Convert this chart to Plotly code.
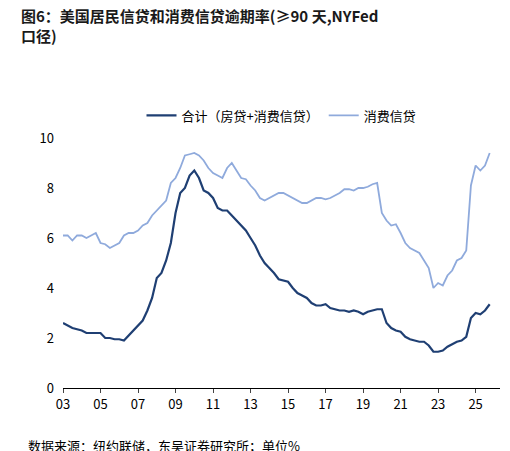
import plotly.graph_objects as go

quarters = [2003 + i / 4 for i in range(92)]

total = [2.6, 2.5, 2.4, 2.35, 2.3, 2.2, 2.2, 2.2, 2.2, 2.0, 2.0, 1.95,
         1.95, 1.9, 2.1, 2.3, 2.5, 2.7, 3.1, 3.6, 4.4, 4.6, 5.1, 5.8,
         7.0, 7.8, 8.0, 8.5, 8.7, 8.4, 7.9, 7.8, 7.6, 7.2, 7.1, 7.1,
         6.9, 6.7, 6.5, 6.3, 6.0, 5.7, 5.3, 5.0, 4.8, 4.6, 4.35, 4.3,
         4.25, 4.0, 3.8, 3.7, 3.6, 3.4, 3.3, 3.3, 3.35, 3.2, 3.15, 3.1,
         3.1, 3.05, 3.1, 3.05, 2.95, 3.05, 3.1, 3.15, 3.15, 2.6, 2.4, 2.3,
         2.25, 2.05, 1.95, 1.9, 1.85, 1.85, 1.7, 1.45, 1.45, 1.5, 1.65, 1.75,
         1.85, 1.9, 2.05, 2.8, 3.0, 2.95, 3.1, 3.35]

consumer = [6.1, 6.1, 5.9, 6.1, 6.1, 6.0, 6.1, 6.2, 5.8, 5.75, 5.6, 5.7,
            5.8, 6.1, 6.2, 6.2, 6.3, 6.5, 6.6, 6.9, 7.1, 7.3, 7.5, 8.2,
            8.4, 8.8, 9.3, 9.35, 9.4, 9.3, 9.1, 8.8, 8.6, 8.5, 8.4, 8.8,
            9.0, 8.7, 8.4, 8.35, 8.1, 7.9, 7.6, 7.5, 7.6, 7.7, 7.8, 7.8,
            7.7, 7.6, 7.5, 7.4, 7.4, 7.5, 7.6, 7.6, 7.55, 7.6, 7.7, 7.8,
            7.95, 7.95, 7.9, 8.0, 8.0, 8.05, 8.15, 8.2, 7.0, 6.7, 6.5, 6.55,
            6.2, 5.8, 5.6, 5.5, 5.4, 5.1, 4.8, 4.0, 4.2, 4.1, 4.5, 4.7,
            5.1, 5.2, 5.5, 8.1, 8.9, 8.7, 8.9, 9.4]

tick_vals = list(range(2003, 2026, 2))
tick_text = ["%02d" % (y % 100) for y in tick_vals]

font = "Noto Sans CJK SC"

fig = go.Figure()
fig.add_trace(go.Scatter(x=quarters, y=total, mode="lines", name="合计（房贷+消费信贷）",
                         line=dict(color="#1f3f73", width=2.2)))
fig.add_trace(go.Scatter(x=quarters, y=consumer, mode="lines", name="消费信贷",
                         line=dict(color="#8faadc", width=1.8)))

fig.update_layout(
    width=510, height=451,
    margin=dict(l=55, r=18, t=130, b=71),
    plot_bgcolor="white", paper_bgcolor="white",
    font=dict(family=font, size=13, color="black"),
    legend=dict(orientation="h", x=0.5, xanchor="center", y=1.09, yanchor="middle",
                font=dict(size=13)),
    xaxis=dict(range=[2003, 2026.3], tickvals=tick_vals, ticktext=tick_text,
               showline=True, linecolor="black", ticks="outside", ticklen=4,
               showgrid=False, zeroline=False),
    yaxis=dict(range=[0, 10], dtick=2, showline=False, showgrid=False,
               zeroline=False, ticks="", ticklabelstandoff=8),
)
fig.add_annotation(text="<b>图6：美国居民信贷和消费信贷逾期率(≥90 天,NYFed<br>口径)</b>",
                   xref="paper", yref="paper", x=-0.1, y=1.54, xanchor="left", yanchor="top",
                   align="left", showarrow=False, font=dict(size=15, color="#1a1a1a"))
fig.add_annotation(text="数据来源：纽约联储，东吴证券研究所；单位%", xref="paper", yref="paper",
                   x=-0.085, y=-0.23, xanchor="left", yanchor="middle", showarrow=False,
                   font=dict(size=13))

fig.write_html("out.html")
